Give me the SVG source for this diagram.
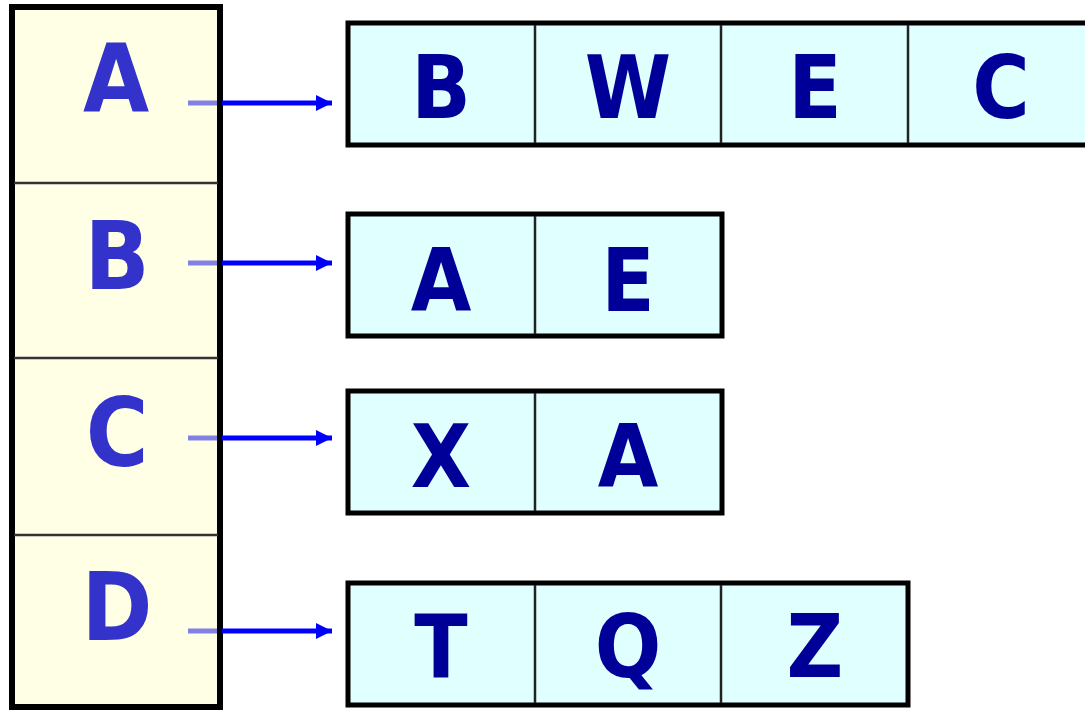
<svg xmlns="http://www.w3.org/2000/svg" width="1085" height="711" viewBox="0 0 1085 711">
<style>
.col{fill:#ffffe6;stroke:#000;stroke-width:6}
.div{stroke:#333;stroke-width:2.5}
.box{fill:#e0ffff;stroke:#000;stroke-width:5}
.cdiv{stroke:#222;stroke-width:2.5}
.kl{font-family:"DejaVu Sans Condensed","DejaVu Sans",sans-serif;font-weight:bold;font-size:95px;fill:#3333cc;text-anchor:middle}
.kr{font-family:"DejaVu Sans Condensed","DejaVu Sans",sans-serif;font-weight:bold;font-size:87px;fill:#000099;text-anchor:middle}
.ar{stroke:#0000ff;stroke-width:5;fill:none}
.arl{stroke:#8080e6;stroke-width:5;fill:none}
</style>
<defs>
<marker id="ah" viewBox="0 0 10 10" refX="10" refY="5" markerWidth="17" markerHeight="16" markerUnits="userSpaceOnUse" orient="auto">
<path d="M0,0 L10,5 L0,10 z" fill="#0000ff"/>
</marker>
</defs>
<g id="column">
<rect class="col" x="12" y="7" width="208" height="700"/>
<line class="div" x1="14" y1="183" x2="218" y2="183"/>
<line class="div" x1="14" y1="358" x2="218" y2="358"/>
<line class="div" x1="14" y1="535" x2="218" y2="535"/>
<text class="kl" x="116" y="112">A</text>
<text class="kl" x="117" y="289">B</text>
<text class="kl" x="117" y="466">C</text>
<text class="kl" x="117" y="640">D</text>
</g>
<g id="connectors">
<line class="arl" x1="188" y1="103" x2="217" y2="103"/>
<line class="ar" x1="222" y1="103" x2="332" y2="103" marker-end="url(#ah)"/>
<line class="arl" x1="188" y1="263" x2="217" y2="263"/>
<line class="ar" x1="222" y1="263" x2="332" y2="263" marker-end="url(#ah)"/>
<line class="arl" x1="188" y1="438" x2="217" y2="438"/>
<line class="ar" x1="222" y1="438" x2="332" y2="438" marker-end="url(#ah)"/>
<line class="arl" x1="188" y1="631" x2="217" y2="631"/>
<line class="ar" x1="222" y1="631" x2="332" y2="631" marker-end="url(#ah)"/>
</g>
<g id="list-A">
<rect class="box" x="348" y="23" width="750" height="122"/>
<line class="cdiv" x1="535" y1="25" x2="535" y2="143"/>
<line class="cdiv" x1="721" y1="25" x2="721" y2="143"/>
<line class="cdiv" x1="908" y1="25" x2="908" y2="143"/>
<text class="kr" x="441" y="118">B</text>
<text class="kr" x="628" y="118">W</text>
<text class="kr" x="815" y="118">E</text>
<text class="kr" x="1001" y="118">C</text>
</g>
<g id="list-B">
<rect class="box" x="348" y="214" width="374" height="122"/>
<line class="cdiv" x1="535" y1="216" x2="535" y2="334"/>
<text class="kr" x="441" y="311">A</text>
<text class="kr" x="628" y="311">E</text>
</g>
<g id="list-C">
<rect class="box" x="348" y="391" width="374" height="122"/>
<line class="cdiv" x1="535" y1="393" x2="535" y2="511"/>
<text class="kr" x="441" y="487">X</text>
<text class="kr" x="628" y="487">A</text>
</g>
<g id="list-D">
<rect class="box" x="348" y="583" width="560" height="122"/>
<line class="cdiv" x1="535" y1="585" x2="535" y2="703"/>
<line class="cdiv" x1="721" y1="585" x2="721" y2="703"/>
<text class="kr" x="441" y="677">T</text>
<text class="kr" x="628" y="677">Q</text>
<text class="kr" x="815" y="677">Z</text>
</g>
</svg>
